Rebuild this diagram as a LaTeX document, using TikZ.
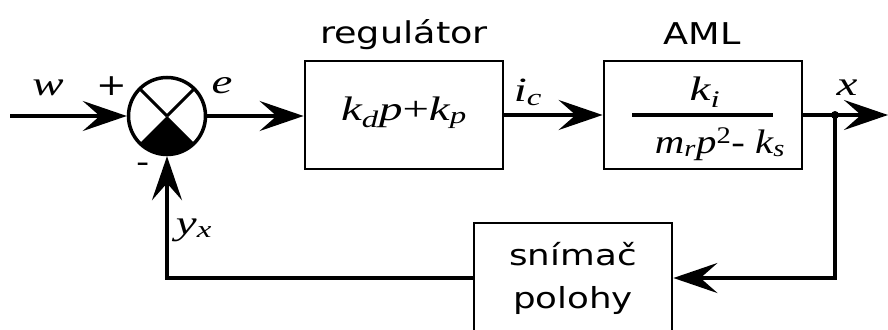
\documentclass[tikz,border=0pt]{standalone}
\usepackage{fontspec}
\setmainfont{DejaVu Sans}
\newfontfamily\tms{Liberation Serif}
\usetikzlibrary{arrows.meta}
\newcommand\sbs[1]{\textsubscript{#1}}
\newcommand\hs[1]{\scalebox{1.22}[1]{#1}}
\newcommand\hm[1]{\scalebox{1.38}[1]{#1}}
\begin{document}
\begin{tikzpicture}[x=1pt,y=-1pt,
  blk/.style={draw, line width=2.8pt, minimum width=198pt, minimum height=108pt, inner sep=0pt},
  sig/.style={line width=4pt, -{Stealth[length=44pt,width=30pt,inset=17pt]}},
  lbl/.style={font=\fontsize{30}{34}\selectfont, inner sep=0pt},
  mlbl/.style={font=\fontsize{34}{38}\selectfont\tms\itshape, inner sep=0pt}
]
\useasboundingbox (0,0) rectangle (888,329);
% summing junction
\node[circle, minimum size=80pt, inner sep=0pt] (s) at (167,116) {};
\fill (s.center) -- ++(45:38) arc[start angle=45, end angle=135, radius=38] -- cycle;
\draw[line width=3pt] (s.center) -- ++(-45:38);
\draw[line width=3pt] (s.center) -- ++(-135:38);
\draw[line width=3.5pt] (s.center) circle[radius=38.5];
% blocks
\node[blk] (reg) at (404,115) {};
\node[mlbl, anchor=base] (regt) at (404,120) {\hm{k\sbs{d}p\textup{+}k\sbs{p}}};
\node[lbl, anchor=base] (regl) at (404,44) {\hs{regulátor}};
\node[blk] (aml) at (703,115) {};
\node[lbl, anchor=base] (amll) at (702,45) {\hs{AML}};
\node[mlbl, anchor=base] (num) at (705,100) {\hm{k\sbs{i}}};
\node[mlbl, anchor=base] (den) at (720,153) {\scalebox{1.2}[1]{m\sbs{r}p\textsuperscript{\textup{2}}\textup{-} k\sbs{s}}};
\draw[line width=4pt] (632,115) coordinate (fl) -- (773,115) coordinate (fr);
\node[draw, line width=2.8pt, minimum width=198pt, minimum height=110pt, inner sep=0pt, align=center,
  font=\fontsize{29}{43}\selectfont] (sen) at (573,278) {\scalebox{1.23}[1]{snímač}\\\scalebox{1.23}[1]{polohy}};
% coordinates
\coordinate (in) at (10,116);
\coordinate (out) at (888,115);
\coordinate (br) at (835,115);
% connectors
\draw[sig] (in) -- (s.west);
\draw[sig] (s.east) -- (reg.west |- s.east);
\draw[sig] (reg.east) -- (aml.west);
\draw[sig] (aml.east) -- (out);
\fill (br) circle[radius=4];
\draw[sig] (br) |- (sen.east);
\draw[sig] (sen.west) -| (s.south);
% labels
\node[mlbl] (wl) at (48,88) {\hm{w}};
\node[lbl] (pl) at (112,86) {\hs{+}};
\node[lbl] (ml) at (143,168) {\hs{-}};
\node[mlbl] (el) at (222,86) {\hm{e}};
\node[mlbl] (il) at (528,92) {\hm{i\sbs{c}}};
\node[mlbl] (xl) at (847,88) {\hm{x}};
\node[mlbl] (yl) at (194,230) {\hm{y\sbs{x}}};
\end{tikzpicture}
\end{document}
